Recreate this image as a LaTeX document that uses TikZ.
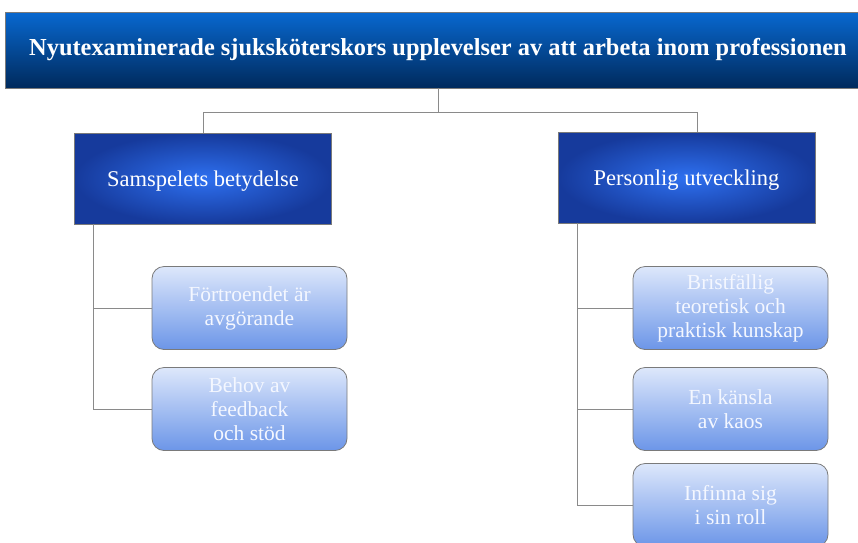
\documentclass[tikz,border=0pt]{standalone}
\usepackage{fontspec}
\setmainfont{Liberation Serif}
\definecolor{topA}{HTML}{0868D0}
\definecolor{topB}{HTML}{002A5C}
\definecolor{catIn}{HTML}{2E70F0}
\definecolor{catOut}{HTML}{163A9C}
\definecolor{kidA}{HTML}{DDE7FB}
\definecolor{kidB}{HTML}{6C96E8}
\definecolor{linegray}{HTML}{8A8A8A}
\definecolor{boxgray}{HTML}{7A7A7A}
\definecolor{kidtext}{HTML}{F4F7FF}
\begin{document}
\begin{tikzpicture}[x=1pt,y=-1pt,
  titlebox/.style={draw=boxgray,line width=0.8pt,top color=topA,bottom color=topB,
    minimum width=866pt,minimum height=76pt,inner sep=0pt,text=white,
    font=\fontsize{24.4}{28}\selectfont\bfseries},
  catbox/.style={draw=boxgray,line width=0.8pt,inner color=catIn,outer color=catOut,
    minimum width=257pt,minimum height=91pt,inner sep=0pt,text=white,
    font=\fontsize{22.5}{26}\selectfont},
  kidbox/.style={draw=boxgray,line width=0.8pt,rounded corners=12pt,top color=kidA,bottom color=kidB,
    minimum width=195pt,minimum height=83pt,inner sep=0pt,text=kidtext,align=center,
    font=\fontsize{21.5}{24}\selectfont},
  conn/.style={draw=linegray,line width=1pt}]
\useasboundingbox (0,0) rectangle (858,542);
\begin{scope}
\clip (0,0) rectangle (858,542);
\node[titlebox] (title) at (438,50) {Nyutexaminerade sjuksköterskors upplevelser av att arbeta inom professionen};
\node[catbox,text depth=-2pt] (cat1) at (203,178.5) {Samspelets betydelse};
\node[catbox,text depth=-2pt] (cat2) at (686.5,177.5) {Personlig utveckling};
\node[kidbox] (k1) at (249.5,308) {Förtroendet är\\avgörande};
\node[kidbox] (k2) at (249.5,409) {Behov av\\feedback\\och stöd};
\node[kidbox] (k3) at (730.5,308) {Bristfällig\\teoretisk och\\praktisk kunskap};
\node[kidbox] (k4) at (730.5,409) {En känsla\\av kaos};
\node[kidbox] (k5) at (730.5,505) {Infinna sig\\i sin roll};
\coordinate (hub) at (438,112.5);
\draw[conn] (title.south -| hub) -- (hub);
\draw[conn] (hub) -- (203,112.5) -- (cat1.north);
\draw[conn] (hub) -- (697,112.5) -- (697,132);
\draw[conn] (93,224) |- (k1.west);
\draw[conn] (93,224) |- (k2.west);
\draw[conn] (577,223) |- (k3.west);
\draw[conn] (577,223) |- (k4.west);
\draw[conn] (577,223) |- (k5.west);
\end{scope}
\end{tikzpicture}
\end{document}
